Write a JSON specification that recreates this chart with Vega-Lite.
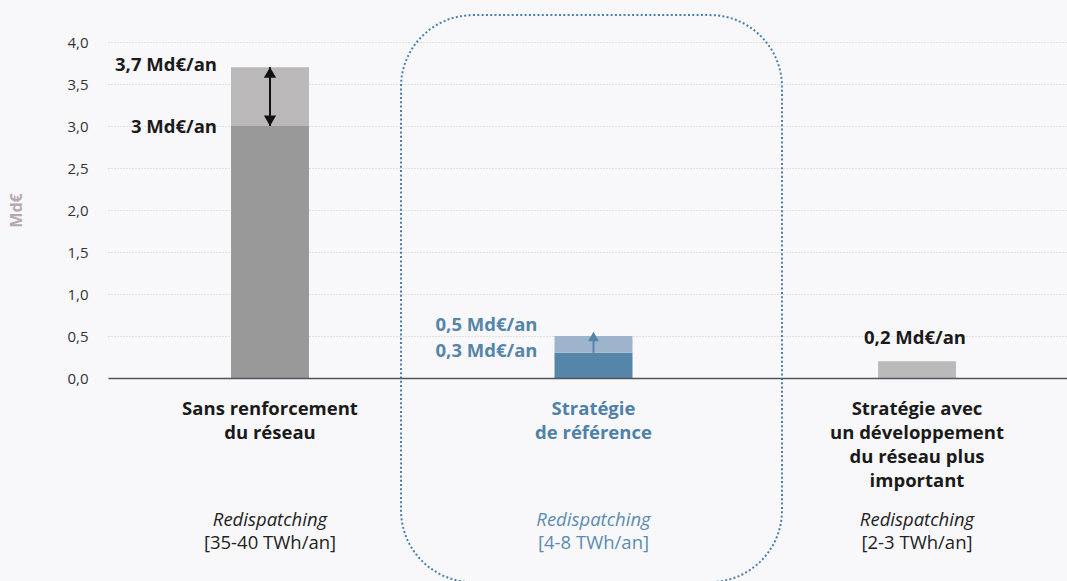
{
  "$schema": "https://vega.github.io/schema/vega-lite/v6.json",
  "width": 959,
  "height": 336,
  "autosize": {"type": "none"},
  "padding": {"left": 108, "top": 42, "right": 0, "bottom": 203},
  "background": "#f8f8fb",
  "config": {"view": {"stroke": null}, "font": "Open Sans"},
  "datasets": {
    "barres": [
      {"scenario": "Sans renforcement du réseau", "serie": "s1-base", "debut": 0, "fin": 3.0},
      {"scenario": "Sans renforcement du réseau", "serie": "s1-extra", "debut": 3.0, "fin": 3.7},
      {"scenario": "Stratégie de référence", "serie": "s2-base", "debut": 0, "fin": 0.3},
      {"scenario": "Stratégie de référence", "serie": "s2-extra", "debut": 0.3, "fin": 0.5},
      {"scenario": "Stratégie avec un développement du réseau plus important", "serie": "s3-base", "debut": 0, "fin": 0.2}
    ],
    "scenarios": [
      {"scenario": "Sans renforcement du réseau", "titre": "Sans renforcement\ndu réseau", "plage": "[35-40 TWh/an]", "highlight": false},
      {"scenario": "Stratégie de référence", "titre": "Stratégie\nde référence", "plage": "[4-8 TWh/an]", "highlight": true},
      {"scenario": "Stratégie avec un développement du réseau plus important", "titre": "Stratégie avec\nun développement\ndu réseau plus\nimportant", "plage": "[2-3 TWh/an]", "highlight": false}
    ],
    "fleches": [
      {"scenario": "Sans renforcement du réseau", "de": 3.0, "a": 3.7},
      {"scenario": "Stratégie de référence", "de": 0.3, "a": 0.5}
    ],
    "etiquettes": [
      {"scenario": "Sans renforcement du réseau", "montant": 3.7, "texte": "3,7 Md€/an"},
      {"scenario": "Sans renforcement du réseau", "montant": 3.0, "texte": "3 Md€/an"},
      {"scenario": "Stratégie de référence", "montant": 0.5, "texte": "0,5 Md€/an"},
      {"scenario": "Stratégie de référence", "montant": 0.3, "texte": "0,3 Md€/an"},
      {"scenario": "Stratégie avec un développement du réseau plus important", "montant": 0.2, "texte": "0,2 Md€/an"}
    ]
  },
  "encoding": {
    "x": {
      "field": "scenario",
      "type": "nominal",
      "scale": {
        "domain": ["Sans renforcement du réseau", "Stratégie de référence", "Stratégie avec un développement du réseau plus important"],
        "paddingInner": 0.759,
        "paddingOuter": 0.3617
      },
      "axis": {"labels": false, "ticks": false, "title": null, "grid": false, "domainColor": "#50535a", "domainWidth": 1.5, "zindex": 2}
    }
  },
  "layer": [
    {
      "data": {"name": "scenarios"},
      "transform": [{"filter": "datum.highlight"}],
      "mark": {"type": "rect", "width": {"band": 4.887}, "xOffset": 4, "fill": "#ffffff", "fillOpacity": 0, "stroke": "#4a80ad", "strokeWidth": 2, "strokeDash": [2, 2.3], "cornerRadius": 72},
      "encoding": {
        "y": {"datum": 4.32, "type": "quantitative", "title": "Md€"},
        "y2": {"datum": -2.43}
      }
    },
    {
      "data": {"name": "barres"},
      "mark": {"type": "bar", "xOffset": 6},
      "encoding": {
        "y": {
          "field": "debut",
          "type": "quantitative",
          "title": "Md€",
          "scale": {"domain": [0, 4], "nice": false},
          "axis": {
            "values": [0, 0.5, 1, 1.5, 2, 2.5, 3, 3.5, 4],
            "labelExpr": "replace(format(datum.value, '.1f'), '.', ',')",
            "ticks": false,
            "domain": false,
            "grid": true,
            "gridColor": "#c9c9ce",
            "gridDash": [1, 2],
            "gridWidth": 1,
            "labelPadding": 20,
            "labelFontSize": 15,
            "labelColor": "#333333",
            "labelFont": "Open Sans",
            "titleFont": "Open Sans",
            "titleFontSize": 16,
            "titleFontWeight": "bold",
            "titleColor": "#b8a6b1",
            "titlePadding": 42
          }
        },
        "y2": {"field": "fin"},
        "color": {
          "field": "serie",
          "type": "nominal",
          "scale": {
            "domain": ["s1-base", "s1-extra", "s2-base", "s2-extra", "s3-base"],
            "range": ["#999999", "#bab8b9", "#5585a8", "#9db4cc", "#bcb9ba"]
          },
          "legend": null
        }
      }
    },
    {
      "data": {"name": "fleches"},
      "transform": [{"filter": "datum.scenario == 'Sans renforcement du réseau'"}],
      "mark": {"type": "rule", "color": "#111111", "strokeWidth": 2, "xOffset": 6},
      "encoding": {"y": {"field": "de", "type": "quantitative", "title": "Md€"}, "y2": {"field": "a"}}
    },
    {
      "data": {"name": "fleches"},
      "transform": [{"filter": "datum.scenario == 'Sans renforcement du réseau'"}],
      "mark": {"type": "point", "shape": "triangle-up", "size": 150, "filled": true, "opacity": 1, "color": "#111111", "xOffset": 6, "yOffset": 5.3},
      "encoding": {"y": {"field": "a", "type": "quantitative", "title": "Md€"}}
    },
    {
      "data": {"name": "fleches"},
      "transform": [{"filter": "datum.scenario == 'Sans renforcement du réseau'"}],
      "mark": {"type": "point", "shape": "triangle-down", "size": 150, "filled": true, "opacity": 1, "color": "#111111", "xOffset": 6, "yOffset": -5.3},
      "encoding": {"y": {"field": "de", "type": "quantitative", "title": "Md€"}}
    },
    {
      "data": {"name": "fleches"},
      "transform": [{"filter": "datum.scenario == 'Stratégie de référence'"}],
      "mark": {"type": "rule", "color": "#5585a8", "strokeWidth": 2, "xOffset": 6},
      "encoding": {"y": {"field": "de", "type": "quantitative", "title": "Md€"}, "y2": {"field": "a"}}
    },
    {
      "data": {"name": "fleches"},
      "transform": [{"filter": "datum.scenario == 'Stratégie de référence'"}],
      "mark": {"type": "point", "shape": "triangle-up", "size": 120, "filled": true, "opacity": 1, "color": "#5585a8", "xOffset": 6, "yOffset": 0.5},
      "encoding": {"y": {"field": "a", "type": "quantitative", "title": "Md€"}}
    },
    {
      "data": {"name": "etiquettes"},
      "transform": [{"filter": "datum.montant == 3.7"}],
      "mark": {"type": "text", "align": "right", "baseline": "alphabetic", "dx": -53, "dy": 3.8, "xOffset": 6, "fontSize": 18.5, "fontWeight": "bold", "color": "#1a1a1a"},
      "encoding": {"y": {"field": "montant", "type": "quantitative", "title": "Md€"}, "text": {"field": "texte"}}
    },
    {
      "data": {"name": "etiquettes"},
      "transform": [{"filter": "datum.montant == 3"}],
      "mark": {"type": "text", "align": "right", "baseline": "alphabetic", "dx": -53, "dy": 7.3, "xOffset": 6, "fontSize": 18.5, "fontWeight": "bold", "color": "#1a1a1a"},
      "encoding": {"y": {"field": "montant", "type": "quantitative", "title": "Md€"}, "text": {"field": "texte"}}
    },
    {
      "data": {"name": "etiquettes"},
      "transform": [{"filter": "datum.montant == 0.5"}],
      "mark": {"type": "text", "align": "right", "baseline": "alphabetic", "dx": -56, "dy": -5, "xOffset": 6, "fontSize": 18.5, "fontWeight": "bold", "color": "#5585a8"},
      "encoding": {"y": {"field": "montant", "type": "quantitative", "title": "Md€"}, "text": {"field": "texte"}}
    },
    {
      "data": {"name": "etiquettes"},
      "transform": [{"filter": "datum.montant == 0.3"}],
      "mark": {"type": "text", "align": "right", "baseline": "alphabetic", "dx": -56, "dy": 3.9, "xOffset": 6, "fontSize": 18.5, "fontWeight": "bold", "color": "#5585a8"},
      "encoding": {"y": {"field": "montant", "type": "quantitative", "title": "Md€"}, "text": {"field": "texte"}}
    },
    {
      "data": {"name": "etiquettes"},
      "transform": [{"filter": "datum.montant == 0.2"}],
      "mark": {"type": "text", "align": "center", "baseline": "alphabetic", "dx": -2, "dy": -17.2, "xOffset": 6, "fontSize": 18.5, "fontWeight": "bold", "color": "#1a1a1a"},
      "encoding": {"y": {"field": "montant", "type": "quantitative", "title": "Md€"}, "text": {"field": "texte"}}
    },
    {
      "data": {"name": "scenarios"},
      "mark": {"type": "text", "align": "center", "baseline": "alphabetic", "dy": 37, "xOffset": 6, "lineBreak": "\n", "lineHeight": 24, "fontSize": 18.5, "fontWeight": "bold"},
      "encoding": {
        "y": {"datum": 0, "type": "quantitative", "title": "Md€"},
        "text": {"field": "titre"},
        "color": {"condition": {"test": "datum.highlight", "value": "#4f81a8"}, "value": "#1a1a1a"}
      }
    },
    {
      "data": {"name": "scenarios"},
      "mark": {"type": "text", "align": "center", "baseline": "alphabetic", "dy": 147.7, "xOffset": 6, "fontSize": 18.5, "fontStyle": "italic"},
      "encoding": {
        "y": {"datum": 0, "type": "quantitative", "title": "Md€"},
        "text": {"value": "Redispatching"},
        "color": {"condition": {"test": "datum.highlight", "value": "#5b8bb2"}, "value": "#222222"}
      }
    },
    {
      "data": {"name": "scenarios"},
      "mark": {"type": "text", "align": "center", "baseline": "alphabetic", "dy": 171.3, "xOffset": 6, "fontSize": 18.5},
      "encoding": {
        "y": {"datum": 0, "type": "quantitative", "title": "Md€"},
        "text": {"field": "plage"},
        "color": {"condition": {"test": "datum.highlight", "value": "#5b8bb2"}, "value": "#222222"}
      }
    }
  ]
}
